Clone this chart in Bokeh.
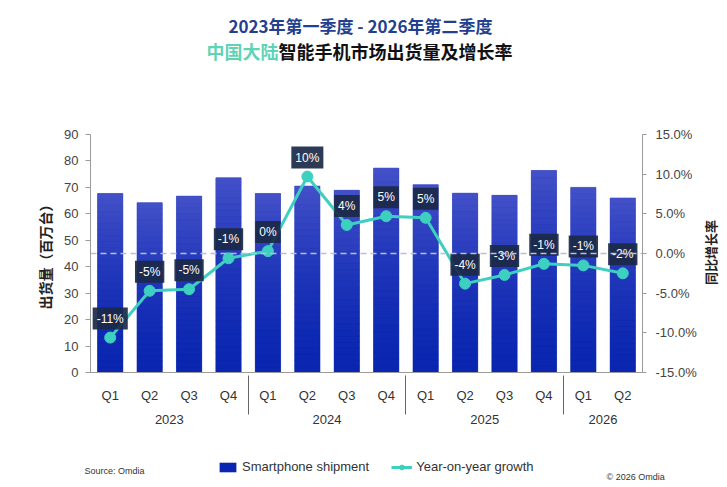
import math
from bokeh.plotting import figure
from bokeh.layouts import column, row
from bokeh.models import (FactorRange, Range1d, LinearAxis, Span, Label, Legend, LegendItem,
                          FixedTicker, PrintfTickFormatter, ColumnDataSource)
from bokeh.embed import file_html
from bokeh.resources import INLINE
from bokeh.core.properties import value

# ---------------- data ----------------
years = ["2023", "2023", "2023", "2023", "2024", "2024", "2024", "2024",
         "2025", "2025", "2025", "2025", "2026", "2026"]
quarters = ["Q1", "Q2", "Q3", "Q4", "Q1", "Q2", "Q3", "Q4",
            "Q1", "Q2", "Q3", "Q4", "Q1", "Q2"]
shipments = [67.7, 64.2, 66.7, 73.6, 67.7, 70.5, 68.9, 77.3,
             71.0, 67.8, 67.0, 76.4, 70.0, 66.0]
growth = [-10.6, -4.7, -4.5, -0.6, 0.3, 9.7, 3.6, 4.7,
          4.5, -3.8, -2.7, -1.3, -1.5, -2.5]
growth_labels = ["-11%", "-5%", "-5%", "-1%", "0%", "10%", "4%", "5%",
                 "5%", "-4%", "-3%", "-1%", "-1%", "-2%"]
left_ticks = [0, 10, 20, 30, 40, 50, 60, 70, 80, 90]
right_ticks = [-15, -10, -5, 0, 5, 10, 15]
title_line1 = "2023年第一季度 - 2026年第二季度"
title_line2a = "中国大陆"
title_line2b = "智能手机市场出货量及增长率"
left_label = "出货量（百万台）"
right_label = "同比增长率"
series_names = ["Smartphone shipment", "Year-on-year growth"]
source_text = "Source: Omdia"
copyright_text = "© 2026 Omdia"

# ---------------- style ----------------
W = 727
WR = 27                      # strip right of the chart holding the right axis title
W1 = W - WR
H0, H1, H2 = 118, 309, 60
BL, BT, BB = 90, 16, 55
BR = W1 - 642
LATIN = "Liberation Sans"
CJK = "Noto Sans CJK SC"
BAR_BOTTOM = (10, 38, 176)
BAR_TOP = (66, 80, 200)
BAR_BASE = "#%02x%02x%02x" % BAR_BOTTOM
TEAL = "#3dcfbf"
NAN = float("nan")


def bare(fig):
    fig.outline_line_color = None
    fig.grid.grid_line_color = None
    fig.background_fill_color = "white"
    fig.border_fill_color = "white"
    return fig


def strip(w, h):
    return bare(figure(width=w, height=h, x_range=Range1d(0, 1), y_range=Range1d(0, 1),
                       x_axis_type=None, y_axis_type=None, output_backend="svg",
                       toolbar_location=None, min_border=0))


p0 = strip(W, H0)
p2 = strip(W, H2)
pr = strip(WR, H1)
ALIGNED = "frame_align" not in p0.properties()
if not ALIGNED:
    for f in (p0, p2, pr):
        f.frame_align = False
XO = BL if ALIGNED else 0


def lab(fig, x, y, text, size, color, font, bold=False, align="left", angle=0.0, xo=XO):
    fig.add_layout(Label(x=x - xo, y=y, x_units="screen", y_units="screen", text=text,
                         text_align=align, text_baseline="middle", text_font=font,
                         text_font_style="bold" if bold else "normal", angle=angle,
                         text_font_size=size, text_color=color))


# ---------------- title strip ----------------
lab(p0, 360, H0 - 25, title_line1, "17px", "#22408f", CJK, True, "center")
lab(p0, 206, H0 - 50, title_line2a, "18px", "#5fd3b6", CJK, True)
lab(p0, 278, H0 - 50, title_line2b, "18px", "#111111", CJK, True)

# ---------------- main chart ----------------
factors = list(zip(years, quarters))
src = ColumnDataSource(dict(x=factors, ship=shipments, g=growth, lab=growth_labels))

p = bare(figure(x_range=FactorRange(*factors, group_padding=0, subgroup_padding=0, range_padding=0),
                y_range=Range1d(left_ticks[0], left_ticks[-1]),
                width=W1, height=H1, output_backend="svg", toolbar_location=None,
                min_border_left=BL, min_border_right=BR, min_border_top=BT, min_border_bottom=BB))

bars = p.vbar(x="x", top="ship", width=0.64, source=src, fill_color=BAR_BASE, line_color=None)
N = 30
for k in range(N):
    t = ((k + 1) / N) ** 1.6
    c = "#%02x%02x%02x" % tuple(int(round(BAR_BOTTOM[i] + (BAR_TOP[i] - BAR_BOTTOM[i]) * t))
                                for i in range(3))
    p.vbar(x=factors, bottom=[v * k / N for v in shipments],
           top=[v * (k + 1) / N for v in shipments], width=0.64,
           fill_color=c, line_color=c, line_width=0.6)

p.extra_y_ranges = {"g": Range1d(right_ticks[0], right_ticks[-1])}
ra = LinearAxis(y_range_name="g", ticker=FixedTicker(ticks=right_ticks),
                formatter=PrintfTickFormatter(format="%.1f%%"))
p.add_layout(ra, "right")

p.add_layout(Span(location=0, dimension="width", y_range_name="g",
                  line_color="#b8c0d6", line_width=1.5, line_dash="6 4"))

line = p.line(x="x", y="g", source=src, y_range_name="g", line_color=TEAL, line_width=3)
pts = p.scatter(x="x", y="g", source=src, y_range_name="g", size=11,
                fill_color=TEAL, line_color=TEAL)

p.text(x="x", y="g", text="lab", source=src, y_range_name="g",
       text_align="center", text_baseline="middle", y_offset=-19,
       text_color="white", text_font=value(LATIN), text_font_size="12px",
       background_fill_color="#1b2946", background_fill_alpha=0.92, padding=4)

la = p.yaxis[0]
for ax in (la, ra):
    ax.major_label_text_font = LATIN
    ax.major_label_text_font_size = "13px"
    ax.major_label_text_color = "#444444"
    ax.axis_line_color = "#9a9a9a"
    ax.major_tick_line_color = "#9a9a9a"
    ax.major_tick_in = 0
    ax.minor_tick_line_color = None
la.ticker = FixedTicker(ticks=left_ticks)
la.major_tick_out = 5
la.major_label_standoff = 7
la.axis_label = left_label
la.axis_label_text_font = CJK
la.axis_label_text_font_style = "bold"
la.axis_label_text_color = "#222222"
la.axis_label_text_font_size = "14px"
la.axis_label_standoff = 6
ra.major_tick_out = 4
ra.major_label_standoff = 9

xa = p.xaxis[0]
xa.axis_line_color = "#9a9a9a"
xa.major_tick_line_color = None
xa.major_label_text_font = LATIN
xa.major_label_text_font_size = "13px"
xa.major_label_text_color = "#333333"
xa.major_label_standoff = 9
xa.group_text_font = LATIN
xa.group_text_font_size = "13px"
xa.group_text_font_style = "normal"
xa.group_text_color = "#333333"
xa.separator_line_color = "#666666"
xa.separator_line_width = 1

# right axis title (reads bottom-to-top)
lab(pr, 710 - W1, H1 - (BT + 118), right_label, "13px", "#222222", CJK, True,
    "center", math.pi / 2, xo=0)

# ---------------- legend / source strip ----------------
lb = p2.vbar(x=[NAN], top=[NAN], width=0.5, fill_color=BAR_BASE, line_color=None)
ll = p2.line(x=[NAN], y=[NAN], line_color=TEAL, line_width=3)
lp = p2.scatter(x=[NAN], y=[NAN], size=8, fill_color=TEAL, line_color=TEAL)
legend = Legend(items=[LegendItem(label=series_names[0], renderers=[lb]),
                       LegendItem(label=series_names[1], renderers=[ll, lp])],
                orientation="horizontal", location=(217 - XO, 13),
                padding=0, margin=0, spacing=22, label_standoff=4,
                glyph_width=21, glyph_height=12, border_line_color=None,
                background_fill_alpha=0,
                label_text_font=LATIN, label_text_font_size="13px", label_text_color="#333333")
p2.add_layout(legend, "center")
lab(p2, 84, H2 - 43, source_text, "9px", "#333333", LATIN)
if ALIGNED:
    lab(p2, 642, H2 - 49, copyright_text, "9px", "#333333", LATIN, align="right")
else:
    lab(p2, 606, H2 - 49, copyright_text, "9px", "#333333", LATIN)

layout = column(p0, row(p, pr, spacing=0), p2, spacing=0)
open("out.html", "w").write(file_html(layout, INLINE))
